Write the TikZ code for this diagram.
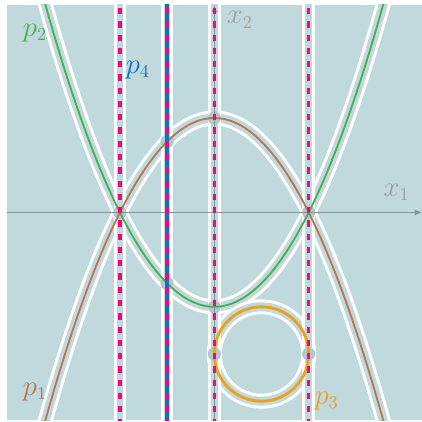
\documentclass[tikz,border=0pt]{standalone}
\usetikzlibrary{arrows.meta}

\definecolor{bgteal}{RGB}{192,217,220}
\definecolor{dotgray}{RGB}{178,200,203}
\definecolor{axisgray}{RGB}{128,150,152}
\definecolor{labelgray}{RGB}{158,160,160}
\definecolor{pinkline}{RGB}{236,10,125}
\definecolor{blueline}{RGB}{20,112,190}
\definecolor{greenline}{RGB}{78,172,80}
\definecolor{brownline}{RGB}{186,116,80}
\definecolor{orangeline}{RGB}{236,160,28}

\tikzset{
  halo/.style={draw=white, line width=1.8pt, double=bgteal, double distance=5.4pt},
  lanehalo/.style={draw=white, line width=1.8pt, double=bgteal, double distance=4pt},
  curve/.style={line width=1.1pt},
  lane/.style={pinkline, line width=2pt, dash pattern=on 3.8pt off 4.2pt},
  crossdot/.style={circle, fill=dotgray, inner sep=0pt, minimum size=8pt},
  axis/.style={axisgray, line width=0.6pt, -{Latex[length=4.5pt,width=3.5pt]}},
  lbl/.style={font=\fontsize{16}{18}\selectfont}
}

\begin{document}
\begin{tikzpicture}[x=2cm,y=2cm]
    % Half size of the plot window
    \def\half{2.2}
    \useasboundingbox (-2.27,-2.21) rectangle (2.2,2.25);

    % Background
    \fill[bgteal] (-\half,-\half) rectangle (\half,\half);

    \begin{scope}
        \clip (-\half,-\half) rectangle (\half,\half);

        % White borders of the curves
        \draw[halo] plot[domain=-1.9:1.9, samples=90, smooth] (\x,{1-\x*\x});
        \draw[halo] plot[domain=-1.9:1.9, samples=90, smooth] (\x,{\x*\x-1});
        \draw[halo] (0.5,-1.5) circle[radius=0.5];

        % White borders of the vertical lines
        \foreach \lx in {-1,-0.5,0,1}
            \draw[lanehalo] (\lx,-2.4) -- (\lx,2.4);

        % Dots where curves meet the lines
        \node[crossdot] (d1) at (-1,0) {};
        \node[crossdot] (d2) at (1,0) {};
        \node[crossdot] (d3) at (-0.5,0.75) {};
        \node[crossdot] (d4) at (-0.5,-0.75) {};
        \node[crossdot] (d5) at (0,1) {};
        \node[crossdot] (d6) at (0,-1) {};
        \node[crossdot] (d7) at (0,-1.5) {};
        \node[crossdot] (d8) at (1,-1.5) {};

        % Axes
        \draw[axis] (-\half,0) -- (\half,0);
        \draw[axis] (0,-\half) -- (0,\half);

        % The curves
        \draw[curve, brownline] plot[domain=-1.9:1.9, samples=90, smooth] (\x,{1-\x*\x});
        \draw[curve, greenline] plot[domain=-1.9:1.9, samples=90, smooth] (\x,{\x*\x-1});
        \draw[orangeline, line width=1.7pt] (0.5,-1.5) circle[radius=0.5];

        % The vertical lines
        \draw[blueline, line width=2.6pt] (-0.5,-2.4) -- (-0.5,2.4);
        \foreach \lx in {-1,-0.5,0,1}
            \draw[lane] (\lx,-2.4) -- (\lx,2.4);
    \end{scope}

    % Labels
    \node[lbl, text=greenline] (p2) at (-1.9,1.9) {$p_2$};
    \node[lbl, text=blueline] (p4) at (-0.81,1.51) {$p_4$};
    \node[lbl, text=labelgray] (x2) at (0.27,2.04) {$x_2$};
    \node[lbl, text=labelgray] (x1) at (1.93,0.21) {$x_1$};
    \node[lbl, text=brownline] (p1) at (-1.9,-1.9) {$p_1$};
    \node[lbl, text=orangeline] (p3) at (1.19,-2.0) {$p_3$};

\end{tikzpicture}
\end{document}
